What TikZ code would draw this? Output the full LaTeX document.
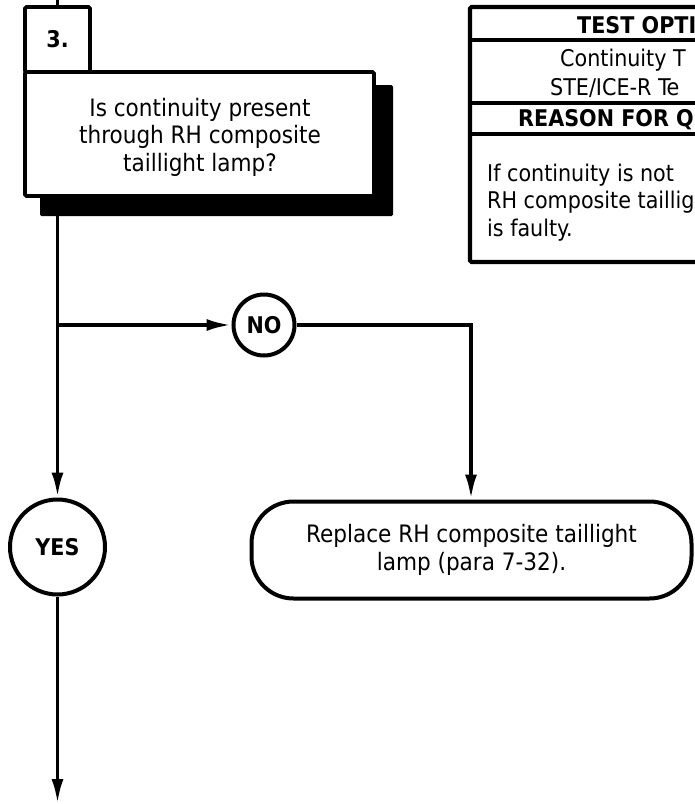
\documentclass[tikz,border=0pt]{standalone}
\usepackage{fontspec}
\setmainfont{DejaVu Sans Condensed}
\usetikzlibrary{arrows.meta,shapes.geometric}
\tikzset{
  ln/.style={line width=3.8pt},
  arr/.style={ln,-{Latex[length=25pt,width=12pt]}},
  txt/.style={font=\fontsize{24}{27.5}\selectfont},
  ttxt/.style={font=\fontsize{23}{27.5}\selectfont},
  btxt/.style={font=\fontsize{23}{27.5}\selectfont\bfseries},
  sqbox/.style={draw,ln,fill=white,inner sep=0pt,rounded corners=1.5pt},
  circ/.style={draw,line width=4pt,circle,inner sep=0pt,btxt,fill=white},
  term/.style={draw,line width=4pt,rounded corners=42pt,inner sep=0pt,align=center,txt,fill=white},
  tline/.style={line width=4.2pt},
}
\begin{document}
\begin{tikzpicture}[x=1pt,y=-1pt]
\useasboundingbox (0,0) rectangle (695,804);
\clip (0,0) rectangle (695,804);
% table
\draw[tline,rounded corners=1.5pt] (470,7) rectangle (720,262);
\draw[tline] (470,40) -- (720,40);
\draw[tline] (470,103) -- (720,103);
\draw[tline] (470,134) -- (720,134);
\node[btxt,anchor=base west,inner sep=0pt] (th1) at (577,33) {TEST OPTI};
\node[ttxt,anchor=base west,inner sep=0pt] (tc1) at (560,66) {Continuity T};
\node[ttxt,anchor=base west,inner sep=0pt] (tc2) at (550,95) {STE/ICE-R Te};
\node[btxt,anchor=base west,inner sep=0pt] (th2) at (518,126) {REASON FOR Q};
\node[ttxt,anchor=base west,inner sep=0pt] (tr1) at (487,181) {If continuity is not};
\node[ttxt,anchor=base west,inner sep=0pt] (tr2) at (487,208) {RH composite taillig};
\node[ttxt,anchor=base west,inner sep=0pt] (tr3) at (487,236) {is faulty.};
% question box with shadow
\fill[rounded corners=1.5pt] (40,85) rectangle (393,216);
\node[sqbox,minimum width=349pt,minimum height=124pt] (q) at (199.5,134) {};
\node[txt,align=center] (qt) at (200,137) {Is continuity present\\through RH composite\\taillight lamp?};
\node[sqbox,minimum width=65pt,minimum height=65pt,btxt] (num) at (57.5,39.5) {3.};
\coordinate (topin) at (57.5,0);
\draw[ln] (topin) -- (num.north);
% decision circles
\node[circ,minimum size=61pt] (no) at (264,325) {NO};
\node[circ,minimum size=95pt] (yes) at (57.5,547) {YES};
\node[term,minimum width=440pt,minimum height=97pt] (rep) at (471.5,550) {Replace RH composite taillight\\lamp (para 7-32).};
% connectors
\coordinate (j) at (57.5,325);
\coordinate (c1) at (471,325);
\coordinate (endp) at (57.5,804);
\draw[ln] (q.south -| j) -- (j);
\draw[arr] (j) -- (yes.north);
\draw[arr] (j) -- (no.west);
\draw[arr] (no.east) -- (c1) -- (rep.north -| c1);
\draw[arr] (yes.south) -- (endp);
\end{tikzpicture}
\end{document}
